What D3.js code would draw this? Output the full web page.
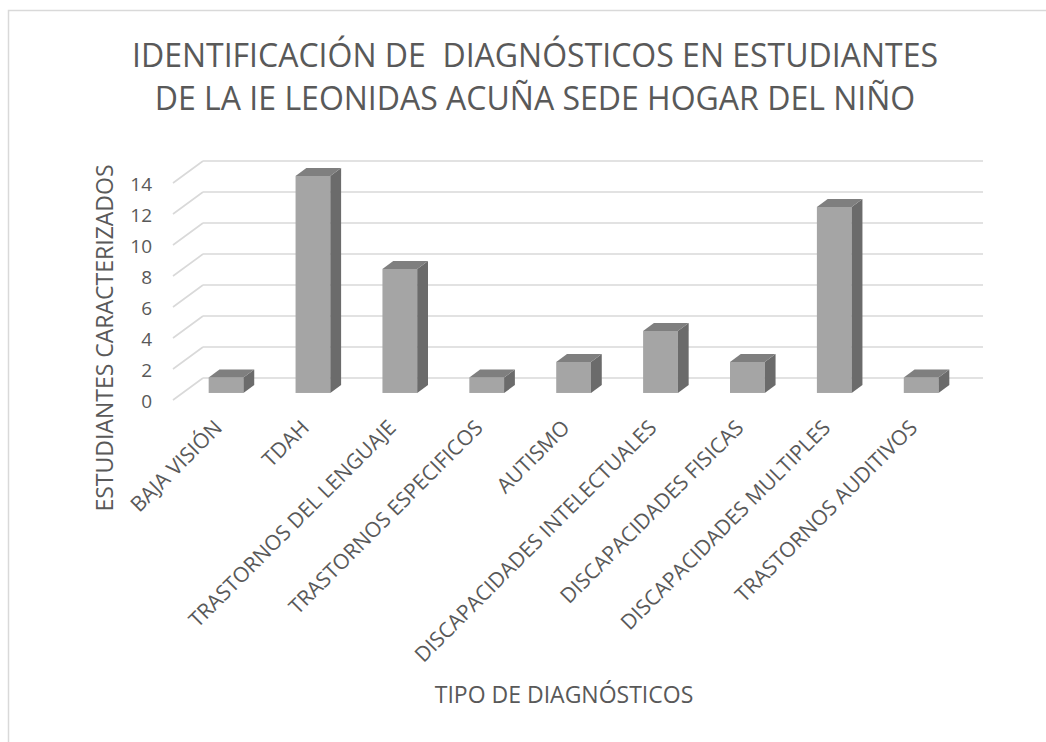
<!DOCTYPE html>
<html lang="es">
<head>
<meta charset="UTF-8">
<title>Diagnósticos</title>
<script src="https://cdnjs.cloudflare.com/ajax/libs/d3/7.8.5/d3.min.js"></script>
<style>
  html, body { margin: 0; padding: 0; background: #fff; }
  svg { display: block; font-family: "Open Sans", sans-serif; }
  text { fill: #595959; white-space: pre; }
</style>
</head>
<body>
<div id="chart"></div>
<script>
var categories = ['BAJA VISIÓN', 'TDAH', 'TRASTORNOS DEL LENGUAJE', 'TRASTORNOS ESPECIFICOS',
  'AUTISMO', 'DISCAPACIDADES INTELECTUALES', 'DISCAPACIDADES FISICAS',
  'DISCAPACIDADES MULTIPLES', 'TRASTORNOS AUDITIVOS'];
var values = [1, 14, 8, 1, 2, 4, 2, 12, 1];
var yTicks = [0, 2, 4, 6, 8, 10, 12, 14];
var titleLines = ['IDENTIFICACIÓN DE  DIAGNÓSTICOS EN ESTUDIANTES',
  'DE LA IE LEONIDAS ACUÑA SEDE HOGAR DEL NIÑO'];

var W = 1046, H = 742;
// front-left corner of the floor and the depth vector of the 3d box
var X0 = 173;
var DX = 30, DY = -22;
// bars sit in the middle of the depth
var F1 = 0.32, F2 = 0.68;

var svg = d3.select('#chart').append('svg')
  .attr('width', W)
  .attr('height', H);

// chart area border
svg.append('rect')
  .attr('x', 8.5).attr('y', 10.5)
  .attr('width', 1100).attr('height', 800)
  .attr('fill', '#fff')
  .attr('stroke', '#d9d9d9')
  .attr('stroke-width', 1.5);

var x = d3.scaleBand()
  .domain(categories)
  .range([X0, X0 + 782])
  .paddingInner(0.6)
  .paddingOuter(0.3);

var y = d3.scaleLinear()
  .domain([0, 14])
  .range([400, 183]);

// title
svg.append('text')
  .attr('text-anchor', 'middle')
  .attr('font-size', 32)
  .selectAll('tspan')
  .data(titleLines)
  .join('tspan')
  .attr('x', 535)
  .attr('y', function (d, i) { return 67 + i * 43; })
  .text(function (d) { return d; });

// gridlines: back wall + left wall
var grid = svg.append('g')
  .attr('stroke', '#d9d9d9')
  .attr('stroke-width', 1.6)
  .attr('fill', 'none');

grid.selectAll('line.back')
  .data(yTicks)
  .join('line')
  .attr('class', 'back')
  .attr('x1', X0 + DX).attr('x2', X0 + DX + 780)
  .attr('y1', function (d) { return y(d) + DY; })
  .attr('y2', function (d) { return y(d) + DY; });

grid.selectAll('line.side')
  .data(yTicks)
  .join('line')
  .attr('class', 'side')
  .attr('x1', X0).attr('x2', X0 + DX)
  .attr('y1', function (d) { return y(d); })
  .attr('y2', function (d) { return y(d) + DY; });

// y tick labels
svg.append('g')
  .selectAll('text')
  .data(yTicks)
  .join('text')
  .attr('x', 152)
  .attr('y', function (d) { return y(d) + 1; })
  .attr('dy', '0.35em')
  .attr('text-anchor', 'end')
  .attr('font-size', 19)
  .text(function (d) { return d; });

// bars
var bw = x.bandwidth();
var ddx = (F2 - F1) * DX, ddy = (F2 - F1) * DY;

var bars = svg.append('g')
  .selectAll('g')
  .data(values)
  .join('g')
  .attr('transform', function (d, i) {
    return 'translate(' + (x(categories[i]) + F1 * DX) + ',' + (F1 * DY) + ')';
  });

bars.append('rect')
  .attr('x', 0)
  .attr('y', function (d) { return y(d); })
  .attr('width', bw)
  .attr('height', function (d) { return y(0) - y(d); })
  .attr('fill', '#a5a5a5');

bars.append('path')
  .attr('fill', '#6b6b6b')
  .attr('d', function (d) {
    return 'M' + bw + ',' + y(d) + 'l' + ddx + ',' + ddy +
      'L' + (bw + ddx) + ',' + (y(0) + ddy) + 'L' + bw + ',' + y(0) + 'Z';
  });

bars.append('path')
  .attr('fill', '#7f7f7f')
  .attr('d', function (d) {
    return 'M0,' + y(d) + 'L' + bw + ',' + y(d) + 'l' + ddx + ',' + ddy +
      'L' + ddx + ',' + (y(d) + ddy) + 'Z';
  });

// category labels
svg.append('g')
  .selectAll('text')
  .data(categories)
  .join('text')
  .attr('text-anchor', 'end')
  .attr('font-size', 21)
  .attr('transform', function (d) {
    var cx = x(d) + bw / 2 + 7;
    return 'translate(' + cx + ',429) rotate(-45)';
  })
  .text(function (d) { return d; });

// axis titles
svg.append('text')
  .attr('text-anchor', 'middle')
  .attr('font-size', 23)
  .attr('transform', 'translate(113,338) rotate(-90)')
  .text('ESTUDIANTES CARACTERIZADOS');

svg.append('text')
  .attr('text-anchor', 'middle')
  .attr('font-size', 23)
  .attr('x', 564)
  .attr('y', 703)
  .text('TIPO DE DIAGNÓSTICOS');
</script>
</body>
</html>
